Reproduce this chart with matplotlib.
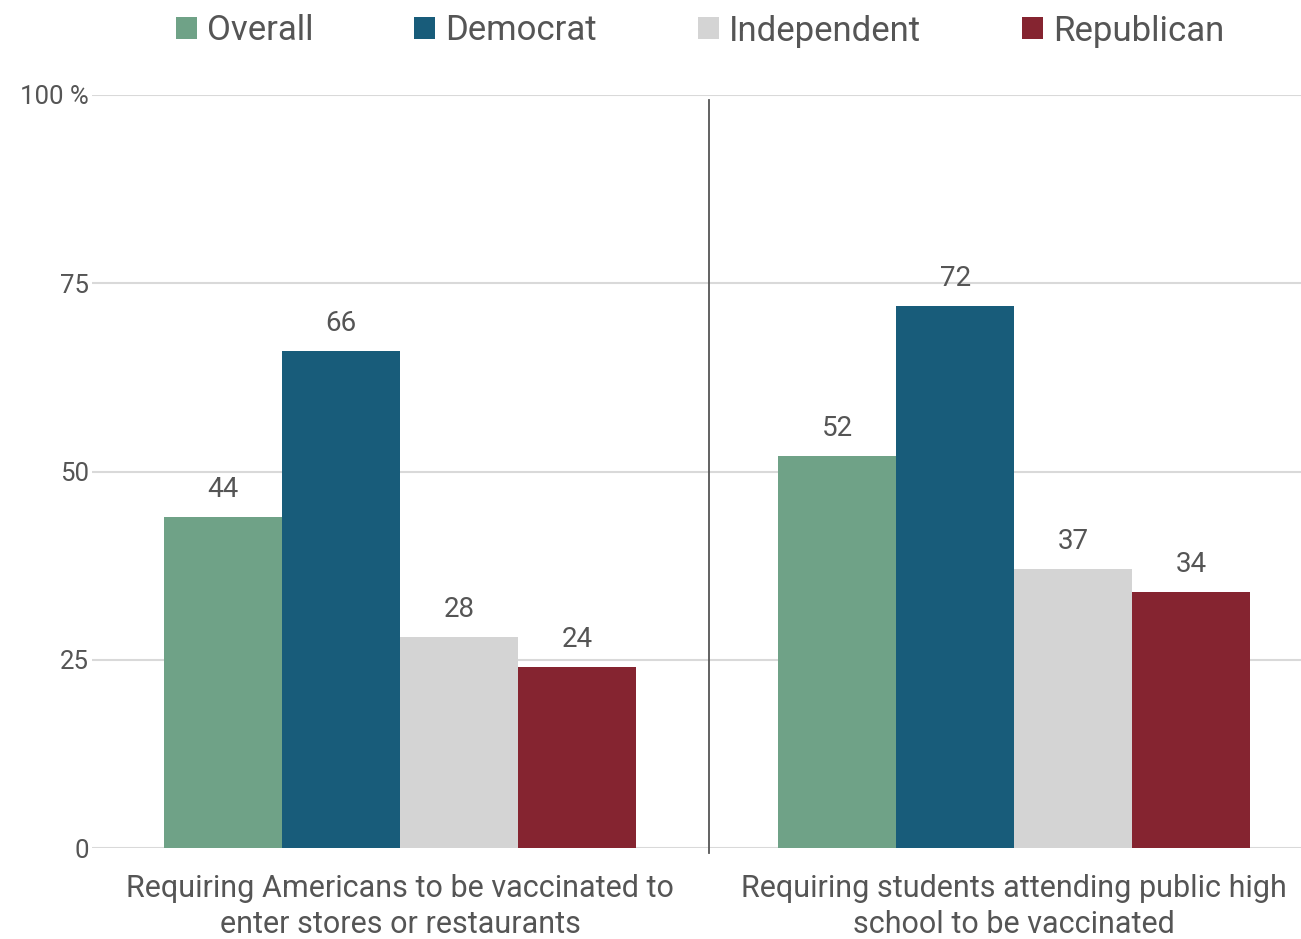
import matplotlib
matplotlib.use("Agg")
import matplotlib.pyplot as plt
from matplotlib.patches import Patch
import numpy as np

categories = ["Requiring Americans to be vaccinated to\nenter stores or restaurants",
              "Requiring students attending public high\nschool to be vaccinated"]
series = ["Overall", "Democrat", "Independent", "Republican"]
values = {
    "Overall": [44, 52],
    "Democrat": [66, 72],
    "Independent": [28, 37],
    "Republican": [24, 34],
}
colors = ["#6fa287", "#185c7a", "#d4d4d4", "#852430"]
yticks = [0, 25, 50, 75, 100]
yticklabels = ["0", "25", "50", "75", "100 %"]

plt.rcParams['font.family'] = ['Roboto', 'DejaVu Sans']
textc = "#555555"

fig = plt.figure(figsize=(13.01, 9.39), dpi=100)
ax = fig.add_axes([92/1301, 1-848/939, (1301-92)/1301, (848-95)/939])

x = np.arange(len(categories))
w = 0.1922
for i, s in enumerate(series):
    pos = x + (i - 1.5) * w
    bars = ax.bar(pos, values[s], width=w, color=colors[i], zorder=3)
    for b, v in zip(bars, values[s]):
        ax.annotate(str(v), (b.get_x() + b.get_width()/2, v), xytext=(0, 14),
                    textcoords="offset pixels", ha="center", va="bottom",
                    fontsize=20, color=textc)

ax.set_xlim(-0.5016, 1.467)
ax.set_ylim(0, 100)
ax.set_yticks(yticks)
ax.set_yticklabels(yticklabels)
ax.yaxis.grid(True, color="#d9d9d9", linewidth=1.5, zorder=0)
ax.set_axisbelow(True)
for sp in ax.spines.values():
    sp.set_visible(False)
ax.tick_params(axis="y", length=0, pad=2, labelsize=18.5, labelcolor=textc)
ax.set_xticks(x)
ax.set_xticklabels(categories, fontsize=22, color=textc, linespacing=1.3)
ax.tick_params(axis="x", length=0, pad=19)

# separator between groups
ax.plot([0.503, 0.503], [-0.7, 99.4], color="#555555", linewidth=1.3, clip_on=False, zorder=4)

handles = [Patch(facecolor=c, edgecolor="none") for c in colors]
fig.legend(handles, series, loc="center", bbox_to_anchor=(700/1301, 1-31/939),
           ncol=4, frameon=False, fontsize=25, handlelength=0.6, handleheight=0.6,
           handletextpad=0.3, columnspacing=2.9, labelcolor=textc)

fig.savefig("out.png", dpi=100)
